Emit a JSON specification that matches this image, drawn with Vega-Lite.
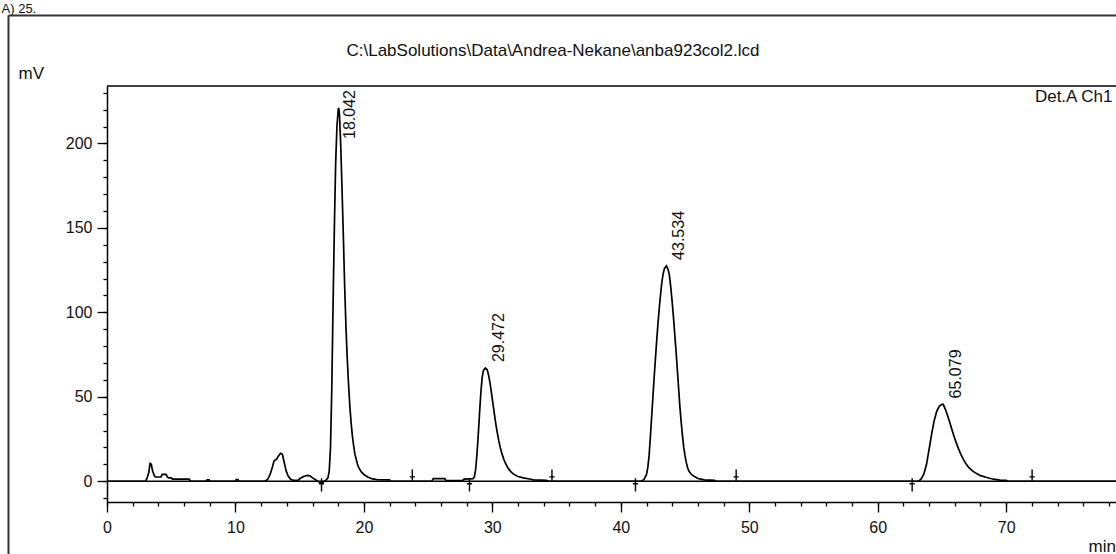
{
  "$schema": "https://vega.github.io/schema/vega-lite/v6.json",
  "width": 1009,
  "height": 416,
  "autosize": {"type": "none"},
  "padding": {"left": 107, "top": 86, "right": 0, "bottom": 52},
  "background": "white",
  "config": {
    "view": {"stroke": null},
    "font": "Liberation Sans",
    "axis": {"grid": false, "domainColor": "black", "tickColor": "black", "labelColor": "#111", "titleColor": "#111", "domainWidth": 1.5, "tickWidth": 1.3, "labelFont": "Liberation Sans", "titleFont": "Liberation Sans", "titleFontWeight": "normal"}
  },
  "datasets": {
    "signal": [
      {"t":0,"v":0},{"t":3.0,"v":0},{"t":3.1,"v":1.5},{"t":3.25,"v":5},{"t":3.35,"v":10.5},{"t":3.45,"v":10},{"t":3.55,"v":6},{"t":3.7,"v":3},{"t":3.8,"v":2.5},{"t":4.2,"v":2.5},{"t":4.3,"v":4},{"t":4.6,"v":4},{"t":4.7,"v":2.5},{"t":4.8,"v":2},{"t":5.0,"v":2},{"t":5.1,"v":1.2},{"t":6.4,"v":1.2},{"t":6.5,"v":0},{"t":7.7,"v":0},{"t":7.8,"v":0.8},{"t":7.95,"v":0.8},{"t":8.0,"v":0},{"t":10.0,"v":0},{"t":10.05,"v":1},{"t":10.2,"v":1},{"t":10.25,"v":0},
      {"t":12.3,"v":0},{"t":12.5,"v":1},{"t":12.7,"v":4},{"t":12.9,"v":9},{"t":13.0,"v":12},{"t":13.2,"v":13},{"t":13.35,"v":15},{"t":13.5,"v":16.5},{"t":13.65,"v":16},{"t":13.8,"v":11},{"t":13.95,"v":6},{"t":14.1,"v":3},{"t":14.3,"v":1.2},{"t":14.5,"v":0.5},{"t":14.9,"v":0.5},{"t":15.0,"v":1.5},{"t":15.3,"v":2.8},{"t":15.6,"v":3.5},{"t":15.8,"v":3.2},{"t":16.0,"v":2},{"t":16.2,"v":1},{"t":16.5,"v":-0.4},{"t":16.8,"v":-0.5},
      {"t":17.0,"v":0.3},{"t":17.2,"v":2},{"t":17.3,"v":6},{"t":17.4,"v":20},{"t":17.5,"v":55},{"t":17.6,"v":105},{"t":17.7,"v":150},{"t":17.8,"v":188},{"t":17.9,"v":210},{"t":18.0,"v":220},{"t":18.04,"v":221},{"t":18.1,"v":217},{"t":18.2,"v":198},{"t":18.3,"v":172},{"t":18.4,"v":145},{"t":18.5,"v":116},{"t":18.6,"v":92},{"t":18.7,"v":73},{"t":18.8,"v":58},{"t":18.9,"v":45},{"t":19.0,"v":35},{"t":19.1,"v":27},{"t":19.2,"v":21},{"t":19.3,"v":16},{"t":19.4,"v":13},{"t":19.5,"v":10},{"t":19.6,"v":8},{"t":19.8,"v":5.5},{"t":20.0,"v":4},{"t":20.3,"v":2.5},{"t":20.6,"v":1.5},{"t":21.0,"v":1},{"t":22.0,"v":0.8},{"t":22.1,"v":0},
      {"t":25.3,"v":0},{"t":25.4,"v":1.5},{"t":26.3,"v":1.5},{"t":26.4,"v":0.3},{"t":27.7,"v":0.5},{"t":27.8,"v":1.3},{"t":28.5,"v":1.5},{"t":28.6,"v":2.5},{"t":28.7,"v":7},{"t":28.8,"v":16},{"t":28.9,"v":27},{"t":29.0,"v":40},{"t":29.1,"v":52},{"t":29.2,"v":61},{"t":29.3,"v":65.5},{"t":29.45,"v":67},{"t":29.6,"v":66},{"t":29.7,"v":63},{"t":29.8,"v":59},{"t":29.9,"v":54},{"t":30.0,"v":48.5},{"t":30.1,"v":43},{"t":30.2,"v":37.5},{"t":30.3,"v":32.5},{"t":30.4,"v":28},{"t":30.5,"v":24},{"t":30.6,"v":20.5},{"t":30.7,"v":17.5},{"t":30.8,"v":15},{"t":30.9,"v":12.8},{"t":31.0,"v":11},{"t":31.2,"v":8},{"t":31.4,"v":6},{"t":31.6,"v":4.5},{"t":31.8,"v":3.5},{"t":32.0,"v":2.8},{"t":32.4,"v":2},{"t":32.9,"v":1.3},{"t":33.2,"v":0.8},{"t":34.2,"v":0.5},{"t":34.4,"v":0},
      {"t":41.6,"v":0},{"t":41.8,"v":1},{"t":42.0,"v":4},{"t":42.1,"v":8},{"t":42.2,"v":15},{"t":42.3,"v":26},{"t":42.4,"v":38},{"t":42.5,"v":50},{"t":42.6,"v":62},{"t":42.7,"v":73},{"t":42.8,"v":84},{"t":42.9,"v":94},{"t":43.0,"v":103},{"t":43.1,"v":111},{"t":43.2,"v":118},{"t":43.3,"v":123},{"t":43.4,"v":126},{"t":43.55,"v":127.5},{"t":43.7,"v":125},{"t":43.8,"v":121},{"t":43.9,"v":114},{"t":44.0,"v":106},{"t":44.1,"v":97},{"t":44.2,"v":87},{"t":44.3,"v":77},{"t":44.4,"v":66},{"t":44.5,"v":55},{"t":44.6,"v":44},{"t":44.7,"v":35},{"t":44.8,"v":27},{"t":44.9,"v":20},{"t":45.0,"v":15},{"t":45.1,"v":11},{"t":45.2,"v":8},{"t":45.3,"v":6},{"t":45.5,"v":4},{"t":45.7,"v":3},{"t":46.0,"v":1.6},{"t":46.5,"v":0.8},{"t":47.3,"v":0.5},{"t":47.4,"v":0},
      {"t":63.2,"v":0},{"t":63.4,"v":1.5},{"t":63.6,"v":4.5},{"t":63.8,"v":10},{"t":64.0,"v":19},{"t":64.2,"v":28},{"t":64.4,"v":36},{"t":64.6,"v":41.5},{"t":64.8,"v":44.5},{"t":65.0,"v":45.5},{"t":65.1,"v":45.5},{"t":65.3,"v":42},{"t":65.5,"v":37.5},{"t":65.7,"v":32.5},{"t":65.9,"v":27.5},{"t":66.1,"v":23},{"t":66.3,"v":19},{"t":66.5,"v":15.5},{"t":66.7,"v":12.5},{"t":66.9,"v":10},{"t":67.1,"v":8},{"t":67.4,"v":6},{"t":67.7,"v":4.5},{"t":68.0,"v":3.3},{"t":68.5,"v":2.2},{"t":69.0,"v":1.2},{"t":69.5,"v":0.7},{"t":70.0,"v":0.5},{"t":70.1,"v":0},{"t":78.55,"v":0}
    ],
    "peaks": [
      {"rt":18.042,"h":221,"label":"18.042"},
      {"rt":29.472,"h":67,"label":"29.472"},
      {"rt":43.534,"h":127.5,"label":"43.534"},
      {"rt":65.079,"h":45.5,"label":"65.079"}
    ],
    "markers": [
      {"t":16.7,"kind":"start"},{"t":23.77,"kind":"end"},
      {"t":28.22,"kind":"start"},{"t":34.64,"kind":"end"},
      {"t":41.14,"kind":"start"},{"t":48.98,"kind":"end"},
      {"t":62.68,"kind":"start"},{"t":72.02,"kind":"end"}
    ]
  },
  "layer": [
    {
      "data": {"name": "signal"},
      "mark": {"type": "line", "color": "black", "strokeWidth": 1.7, "clip": true},
      "encoding": {
        "x": {"field": "t", "type": "quantitative", "scale": {"domain": [0, 78.55], "nice": false, "zero": false},
          "axis": {"orient": "bottom", "values": [0,10,20,30,40,50,60,70], "tickSize": 10, "labelPadding": 7, "labelFontSize": 16, "labelFlush": false, "labelOverlap": false,
            "title": "min", "titleFontSize": 17, "titleX": 981, "titleY": 49, "titleAlign": "left", "titleBaseline": "alphabetic", "titleAnchor": null}},
        "y": {"field": "v", "type": "quantitative", "scale": {"domain": [-12.3, 234], "nice": false, "zero": false},
          "axis": {"orient": "left", "values": [0,50,100,150,200], "tickSize": 10, "labelPadding": 5, "labelFontSize": 16, "labelFlush": false, "labelOverlap": false,
            "title": "mV", "titleFontSize": 17, "titleAngle": 0, "titleX": -89, "titleY": -8, "titleAlign": "left", "titleBaseline": "alphabetic", "titleAnchor": null}}
      }
    },
    {
      "data": {"values": [{}]},
      "mark": {"type": "rule", "color": "black", "strokeWidth": 1.3},
      "encoding": {
        "x": {"datum": 0, "type": "quantitative",
          "axis": {"orient": "bottom", "values": [0,2,4,6,8,10,12,14,16,18,20,22,24,26,28,30,32,34,36,38,40,42,44,46,48,50,52,54,56,58,60,62,64,66,68,70,72,74,76,78], "tickSize": 4, "labels": false, "domain": false, "title": null}},
        "x2": {"datum": 78.55},
        "y": {"datum": 0, "type": "quantitative",
          "axis": {"orient": "left", "values": [-10,0,10,20,30,40,50,60,70,80,90,100,110,120,130,140,150,160,170,180,190,200,210,220,230], "tickSize": 4, "labels": false, "domain": false, "title": null}}
      }
    },
    {
      "data": {"values": [{}]},
      "mark": {"type": "rule", "color": "black", "strokeWidth": 1.5},
      "encoding": {
        "x": {"datum": 0, "type": "quantitative", "axis": null},
        "x2": {"datum": 78.55},
        "y": {"datum": 234, "type": "quantitative", "axis": null}
      }
    },
    {
      "data": {"name": "markers"},
      "mark": {"type": "point", "filled": false, "color": "black", "strokeWidth": 1.4, "size": 300, "opacity": 1},
      "encoding": {
        "x": {"field": "t", "type": "quantitative", "axis": null},
        "y": {"datum": 0, "type": "quantitative", "axis": null},
        "shape": {"field": "kind", "type": "nominal", "legend": null,
          "scale": {"domain": ["start", "end"], "range": ["M0,-0.35L0,1.2M-0.3,0.3L0.3,0.3", "M0,0L0,-1.35M-0.3,-0.5L0.3,-0.5"]}}
      }
    },
    {
      "data": {"name": "peaks"},
      "transform": [{"filter": "datum.label != '18.042'"}],
      "mark": {"type": "text", "angle": 270, "align": "left", "baseline": "top", "dx": 6, "dy": 5, "fontSize": 16, "color": "#111"},
      "encoding": {
        "x": {"field": "rt", "type": "quantitative", "axis": null},
        "y": {"field": "h", "type": "quantitative", "axis": null},
        "text": {"field": "label"}
      }
    },
    {
      "data": {"name": "peaks"},
      "transform": [{"filter": "datum.label == '18.042'"}],
      "mark": {"type": "text", "angle": 270, "align": "right", "baseline": "top", "dx": -4, "dy": 3, "fontSize": 16, "color": "#111"},
      "encoding": {
        "x": {"field": "rt", "type": "quantitative", "axis": null},
        "y": {"datum": 234, "type": "quantitative", "axis": null},
        "text": {"field": "label"}
      }
    },
    {
      "data": {"values": [{}]},
      "mark": {"type": "text", "text": "C:\\LabSolutions\\Data\\Andrea-Nekane\\anba923col2.lcd", "align": "center", "baseline": "alphabetic", "fontSize": 17, "color": "#111"},
      "encoding": {
        "x": {"datum": 34.72, "type": "quantitative", "axis": null},
        "y": {"datum": 251.7, "type": "quantitative", "axis": null}
      }
    },
    {
      "data": {"values": [{}]},
      "mark": {"type": "text", "text": "Det.A Ch1", "align": "right", "baseline": "alphabetic", "fontSize": 17, "color": "#111"},
      "encoding": {
        "x": {"datum": 78.27, "type": "quantitative", "axis": null},
        "y": {"datum": 224.7, "type": "quantitative", "axis": null}
      }
    },
    {
      "data": {"values": [{}]},
      "mark": {"type": "text", "text": "A) 25.", "align": "left", "baseline": "alphabetic", "fontSize": 13, "color": "#111"},
      "encoding": {
        "x": {"datum": -8.21, "type": "quantitative", "axis": null},
        "y": {"datum": 277.2, "type": "quantitative", "axis": null}
      }
    },
    {
      "data": {"values": [{}]},
      "mark": {"type": "rule", "color": "#333", "strokeWidth": 2},
      "encoding": {
        "x": {"datum": -7.67, "type": "quantitative", "axis": null},
        "y": {"datum": -60, "type": "quantitative", "axis": null},
        "y2": {"datum": 275.8}
      }
    },
    {
      "data": {"values": [{}]},
      "mark": {"type": "rule", "color": "#333", "strokeWidth": 2},
      "encoding": {
        "x": {"datum": -7.67, "type": "quantitative", "axis": null},
        "x2": {"datum": 85},
        "y": {"datum": 275.8, "type": "quantitative", "axis": null}
      }
    }
  ],
  "resolve": {"axis": {"x": "independent", "y": "independent"}}
}
